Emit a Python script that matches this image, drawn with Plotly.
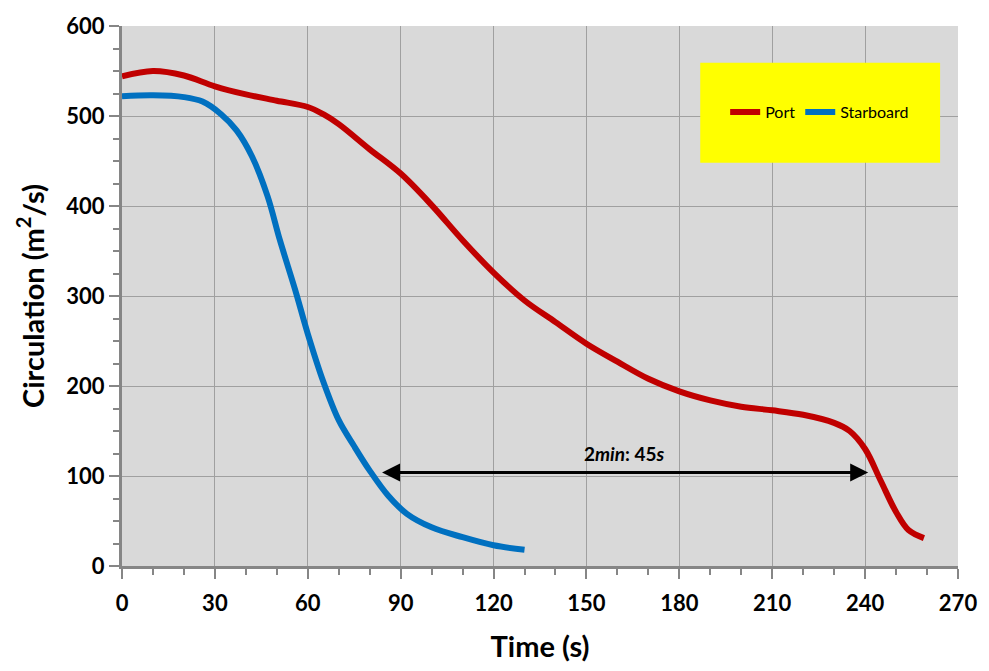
import plotly.graph_objects as go

port_t = [0, 10, 20, 30, 40, 50, 60, 65, 70, 80, 90, 100, 110, 120, 130, 140, 150, 160, 170, 180, 190, 200, 210, 220, 230, 235, 240, 245, 250, 254, 259]
port_c = [544, 550, 545, 533, 524, 517, 510, 502, 491, 463, 436, 401, 362, 326, 295, 271, 247, 227, 208, 194, 184, 177, 173, 168, 159, 150, 130, 95, 60, 40, 31]

star_t = [0, 10, 20, 26, 32, 37, 42, 47, 51, 56, 60, 65, 70, 75, 80, 86, 92, 100, 110, 120, 130]
star_c = [522, 523, 521, 516, 502, 484, 455, 411, 362, 306, 258, 205, 162, 133, 106, 78, 58, 43, 32, 23, 18]

x_ticks = [0, 30, 60, 90, 120, 150, 180, 210, 240, 270]
y_ticks = [0, 100, 200, 300, 400, 500, 600]

arrow_start, arrow_end, arrow_y = 83.5, 241, 104
label_text = "2<i>min</i>: 45<i>s</i>"

font = "Lato"
fig = go.Figure()
fig.add_trace(go.Scatter(x=port_t, y=port_c, mode="lines", name="Port",
                         line=dict(color="#C00000", width=6, shape="spline", smoothing=1.0)))
fig.add_trace(go.Scatter(x=star_t, y=star_c, mode="lines", name="Starboard",
                         line=dict(color="#0070C0", width=6, shape="spline", smoothing=1.0)))

fig.add_shape(type="rect", xref="paper", yref="paper",
              x0=(703-122)/840, x1=(944-122)/840, y0=(566-159)/545, y1=(566-58)/545,
              fillcolor="#FFFF00", line=dict(width=0), layer="above")

fig.add_annotation(x=arrow_end, y=arrow_y, ax=arrow_start, ay=arrow_y, xref="x", yref="y",
                   axref="x", ayref="y", text="", showarrow=True, arrowhead=2, startarrowhead=2,
                   arrowside="end+start", arrowwidth=3, arrowsize=1.2, startarrowsize=1.2, arrowcolor="black")
fig.add_annotation(x=(arrow_start+arrow_end)/2, y=arrow_y, yshift=19, text=label_text, showarrow=False,
                   font=dict(family=font, size=19, color="black", weight="bold"))

axis_common = dict(showline=True, linecolor="#868686", linewidth=3, mirror=False,
                   showgrid=True, gridcolor="#A0A0A0", gridwidth=1, zeroline=False,
                   ticks="outside", tickcolor="#868686", tickwidth=2, ticklen=10,
                   tickfont=dict(family=font, size=22, color="black", weight="bold"))

fig.update_layout(
    width=989, height=671,
    margin=dict(l=122, r=25, t=21, b=105),
    paper_bgcolor="white", plot_bgcolor="#D9D9D9",
    xaxis=dict(range=[0, 270], tickvals=x_ticks, ticklabelstandoff=6,
               minor=dict(dtick=10, ticks="outside", ticklen=6, tickcolor="#868686", tickwidth=2, showgrid=False),
               title=dict(text="Time (s)", font=dict(family=font, size=29, color="black", weight="bold"), standoff=22),
               **axis_common),
    yaxis=dict(range=[0, 600], tickvals=y_ticks,
               minor=dict(dtick=25, ticks="outside", ticklen=6, tickcolor="#868686", tickwidth=2, showgrid=False),
               title=dict(text="Circulation (m<sup>2</sup>/s)", font=dict(family=font, size=29, color="black", weight="bold"), standoff=14),
               **axis_common),
    legend=dict(orientation="h", x=(823-122)/840, y=(566-108)/545, xanchor="center", yanchor="middle",
                bgcolor="rgba(0,0,0,0)", font=dict(family=font, size=16, color="black"),
                itemwidth=30, tracegroupgap=0),
    showlegend=True,
)
fig.write_html("out.html")
